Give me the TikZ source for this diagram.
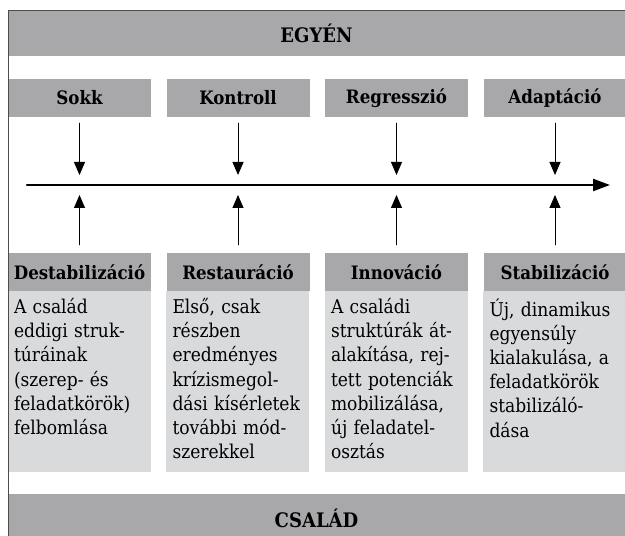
\documentclass[tikz,border=0pt]{standalone}
\usepackage{tikz}
\usepackage{fontspec}
\setmainfont{DejaVu Serif Condensed}
\usetikzlibrary{arrows.meta}
\definecolor{sqsqsq}{rgb}{0.66,0.66,0.67}
\definecolor{dcdcdd}{rgb}{0.85,0.855,0.86}
\definecolor{uququq}{rgb}{0.3,0.3,0.3}

\begin{document}
\begin{tikzpicture}[line cap=round,line join=round,>={Triangle[length=13pt,width=11pt]},x=1pt,y=1pt,
	sav/.style={fill=sqsqsq,inner sep=0pt,minimum width=617pt,font=\fontsize{20}{22}\selectfont\bfseries},
	fejlec/.style={fill=sqsqsq,inner sep=0pt,minimum width=143pt,minimum height=38pt,font=\fontsize{18.5}{22}\selectfont\bfseries},
	szoveg/.style={anchor=north west,inner xsep=6pt,inner ysep=7pt,text width=137pt,align=left,font=\fontsize{19}{24.2}\selectfont}]
					\useasboundingbox (0,0) rectangle (625,536);
					\clip (0,0) rectangle (625,536);
					\node[sav,minimum height=45pt] (egyen) at (316.5,502.5) {EGYÉN};
					\node[sav,minimum height=48pt] (csalad) at (316.5,18) {CSALÁD};
					\foreach \i/\x/\lab in {1/79.5/Sokk,2/238/Kontroll,3/396.5/Regresszió,4/555/Adaptáció}
					{
					\node[fejlec] (f\i) at (\x,438) {\lab};
					\coordinate (a\i) at (\x,351);
					}
					\foreach \i/\x/\lab in {1/79.5/Destabilizáció,2/238/Restauráció,3/396.5/Innováció,4/555/Stabilizáció}
					\node[fejlec] (h\i) at (\x,264) {\lab};
					\foreach \i in {1,...,4}
					\fill[color=dcdcdd] (h\i.south west) rectangle ++(143,-181);
					\node[szoveg] (s1) at (h1.south west) {A család\\eddigi struk-\\túráinak\\(szerep- és\\feladatkörök)\\felbomlása};
					\node[szoveg] (s2) at (h2.south west) {Első, csak\\részben\\eredményes\\krízismegol-\\dási kísérletek\\további mód-\\szerekkel};
					\node[szoveg] (s3) at (h3.south west) {A családi\\struktúrák át-\\alakítása, rej-\\tett potenciák\\mobilizálása,\\új feladatel-\\osztás};
					\node[szoveg] (s4) at (h4.south west) {Új, dinamikus\\egyensúly\\kialakulása, a\\feladatkörök\\stabilizáló-\\dása};
					\coordinate (bal) at (27,351);
					\coordinate (jobb) at (610,351);
					\draw[->,color=black,line width=2.2pt,>={Triangle[length=17pt,width=12pt]}] (bal) -- (jobb);
					\foreach \i in {1,...,4}
					{
					\draw[->,color=black,line width=0.9pt,shorten <=6pt,shorten >=10pt] (f\i.south) -- (a\i);
					\draw[->,color=black,line width=0.9pt,shorten <=8pt,shorten >=10pt] (h\i.north) -- (a\i);
					}
					\draw[color=uququq,line width=1pt] (625,525) -- (8,525) -- (8,-5);
\end{tikzpicture}
\end{document}
